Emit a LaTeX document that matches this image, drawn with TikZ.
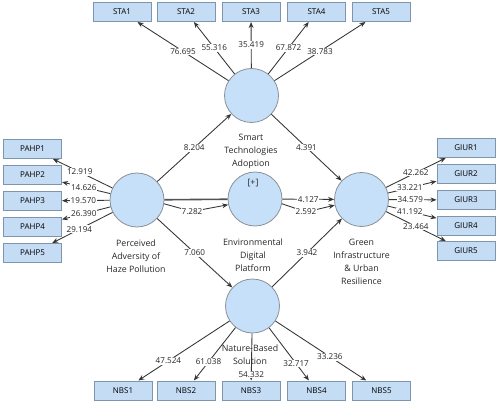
\documentclass[tikz,border=0pt]{standalone}
\usepackage{fontspec}
\setmainfont{Open Sans}
\usetikzlibrary{arrows.meta}
\definecolor{boxfill}{HTML}{C5DCF5}
\definecolor{boxdraw}{HTML}{7F95AE}
\definecolor{circfill}{HTML}{C6E0F9}
\definecolor{circdraw}{HTML}{8A9096}
\definecolor{linecol}{HTML}{353535}
\begin{document}
\begin{tikzpicture}[x=0.75pt,y=-0.75pt,
  ind/.style={draw=boxdraw, fill=boxfill, line width=0.75pt, minimum width=43.5pt, minimum height=14.25pt, inner sep=0pt, font=\fontsize{6}{7}\selectfont},
  lat/.style={circle, draw=circdraw, fill=circfill, line width=0.6pt, minimum size=40.5pt, inner sep=0pt},
  lbl/.style={align=center, font=\fontsize{6.6}{9.75}\selectfont, text=black!85, inner sep=0pt},
  arr/.style={draw=linecol, line width=0.65pt, -{Stealth[length=4.5pt,width=3.6pt]}},
  num/.style={fill=white, inner sep=0.6pt, font=\fontsize{6.1}{7}\selectfont, text=black!85},
]
\useasboundingbox (0,0) rectangle (498,402);

% latent variables
\node[lat] (sta) at (251.5,95.5) {};
\node[lat] (edp) at (255,199) {};
\node[lat] (pahp) at (137,200) {};
\node[lat] (giur) at (361.5,199.5) {};
\node[lat] (nbs) at (252.5,306) {};

\node[lbl] (edpplus) at (253,183) {[+]};
\node[lbl] (stalab) at (251,151) {Smart\\Technologies\\Adoption};
\node[lbl] (edplab) at (253,255) {Environmental\\Digital\\Platform};
\node[lbl] (pahplab) at (136,256) {Perceived\\Adversity of\\Haze Pollution};
\node[lbl] (giurlab) at (361.5,261.5) {Green\\Infrastructure\\\& Urban\\Resilience};
\node[lbl] (nbslab) at (250,355) {Nature-Based\\Solution};

% indicators
\node[ind] (STA1) at (122,12) {STA1};
\node[ind] (STA2) at (186,12) {STA2};
\node[ind] (STA3) at (251,12) {STA3};
\node[ind] (STA4) at (316.5,12) {STA4};
\node[ind] (STA5) at (381,12) {STA5};

\node[ind] (PAHP1) at (32.5,149) {PAHP1};
\node[ind] (PAHP2) at (32.5,175) {PAHP2};
\node[ind] (PAHP3) at (32.5,201) {PAHP3};
\node[ind] (PAHP4) at (32.5,227) {PAHP4};
\node[ind] (PAHP5) at (32.5,253) {PAHP5};

\node[ind] (GIUR1) at (466,148) {GIUR1};
\node[ind] (GIUR2) at (466,174) {GIUR2};
\node[ind] (GIUR3) at (466,200) {GIUR3};
\node[ind] (GIUR4) at (466,225.5) {GIUR4};
\node[ind] (GIUR5) at (466,251) {GIUR5};

\node[ind] (NBS1) at (123,390.5) {NBS1};
\node[ind] (NBS2) at (186,390.5) {NBS2};
\node[ind] (NBS3) at (251,390.5) {NBS3};
\node[ind] (NBS4) at (316.5,390.5) {NBS4};
\node[ind] (NBS5) at (381.5,390.5) {NBS5};

% loadings
\draw[arr] (sta) -- node[num]{76.695} (STA1);
\draw[arr] (sta) -- node[num]{55.316} (STA2);
\draw[arr] (sta) -- node[num]{35.419} (STA3);
\draw[arr] (sta) -- node[num]{67.872} (STA4);
\draw[arr] (sta) -- node[num]{38.783} (STA5);

\draw[arr] (pahp) -- node[num,pos=0.55]{12.919} (PAHP1);
\draw[arr] (pahp) -- node[num,pos=0.55]{14.626} (PAHP2);
\draw[arr] (pahp) -- node[num,pos=0.55]{19.570} (PAHP3);
\draw[arr] (pahp) -- node[num,pos=0.55]{26.390} (PAHP4);
\draw[arr] (pahp) -- node[num,pos=0.55]{29.194} (PAHP5);

\draw[arr] (giur) -- node[num]{42.262} (GIUR1);
\draw[arr] (giur) -- node[num,pos=0.45]{33.221} (GIUR2);
\draw[arr] (giur) -- node[num,pos=0.45]{34.579} (GIUR3);
\draw[arr] (giur) -- node[num,pos=0.45]{41.192} (GIUR4);
\draw[arr] (giur) -- node[num]{23.464} (GIUR5);

\draw[arr] (nbs) -- node[num,pos=0.67]{47.524} (NBS1);
\draw[arr] (nbs) -- node[num,pos=0.65]{61.038} (NBS2);
\draw[arr] (nbs) -- node[num,pos=0.875]{54.332} (NBS3);
\draw[arr] (nbs) -- node[num,pos=0.68]{32.717} (NBS4);
\draw[arr] (nbs) -- node[num,pos=0.6]{33.236} (NBS5);

% structural paths
\draw[arr] (pahp) -- node[num]{8.204} (sta);
\draw[arr] (sta) -- node[num]{4.391} (giur);
\draw[arr] (pahp) -- node[num]{7.060} (nbs);
\draw[arr] (nbs) -- node[num]{3.942} (giur);

\draw[draw=linecol!85, line width=1.2pt] (pahp) -- (edp);
\coordinate (b7282) at (192,211.5);
\draw[arr] (pahp.-8) -- (b7282) -- (edp.-168);
\node[num] (n7282) at (b7282) {7.282};

\draw[arr] (edp) -- node[num]{4.127} (giur);
\coordinate (b2592) at (306,212);
\draw[arr] (edp.-10) -- (b2592) -- (giur.-168);
\node[num] (n2592) at (b2592) {2.592};
\end{tikzpicture}
\end{document}
